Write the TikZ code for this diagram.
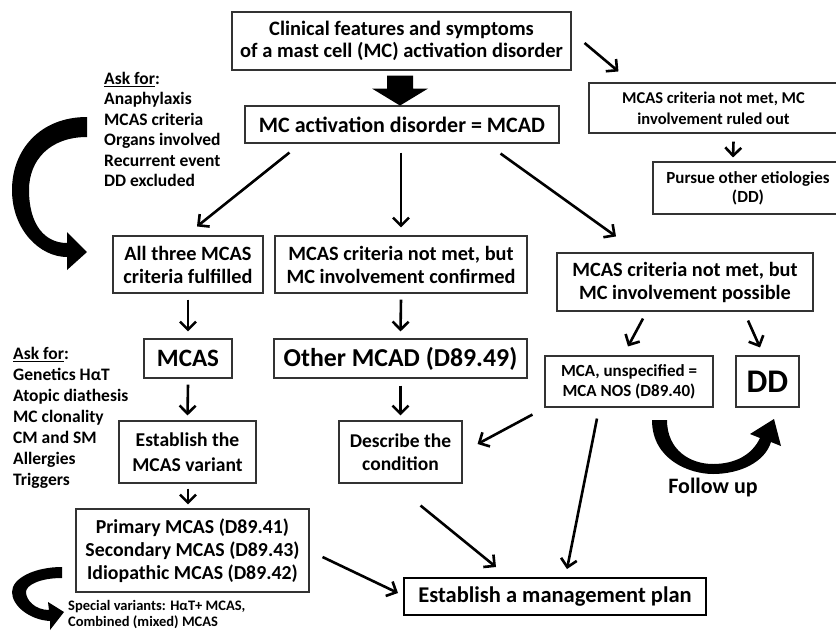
\documentclass[tikz,border=0pt]{standalone}
\usepackage{fontspec}
\setmainfont{Carlito}
\usetikzlibrary{arrows.meta,calc}
\newcommand{\fsz}[1]{\fontsize{#1}{#1}\selectfont}
\tikzset{
  box/.style={draw=black!80, line width=1.1pt, inner sep=0pt, align=center, font=\bfseries\fontsize{20.3}{23}\selectfont},
  arr/.style={line width=2.6pt, -{Straight Barb[length=8pt,width=16pt]}},
  lst/.style={anchor=west, inner sep=0pt, text height=12pt, text depth=3pt, font=\bfseries\fontsize{17.5}{20}\selectfont},
  blk/.style={fill=black, draw=none}
}
\begin{document}
\begin{tikzpicture}[x=1pt,y=-1pt]
\useasboundingbox (0,0) rectangle (836,630);
% boxes
\node[box, minimum width=339pt, minimum height=58pt, font=\bfseries\fontsize{20.5}{22}\selectfont] (top) at (401.5,41) {Clinical features and symptoms\\of a mast cell (MC) activation disorder};
\node[box, minimum width=314pt, minimum height=37pt, font=\bfseries\fsz{22}] (mcad) at (402,124.5) {MC activation disorder = MCAD};
\node[box, minimum width=249pt, minimum height=50pt, font=\bfseries\fontsize{16.5}{21}\selectfont] (ruled) at (713.5,108) {MCAS criteria not met, MC\\involvement ruled out};
\node[box, minimum width=190pt, minimum height=52pt, font=\bfseries\fontsize{17}{19}\selectfont] (pursue) at (748,188) {Pursue other etiologies\\(DD)};
\node[box, minimum width=150pt, minimum height=57pt] (allthree) at (188,264.5) {All three MCAS\\criteria fulfilled};
\node[box, minimum width=252pt, minimum height=57pt] (confirmed) at (401,264.5) {MCAS criteria not met, but\\MC involvement confirmed};
\node[box, minimum width=256pt, minimum height=58pt] (possible) at (685,282) {MCAS criteria not met, but\\MC involvement possible};
\node[box, minimum width=88pt, minimum height=39pt, font=\bfseries\fsz{25}] (mcas) at (188,358.5) {MCAS};
\node[box, minimum width=253pt, minimum height=39pt, font=\bfseries\fsz{25.8}] (other) at (400.5,358.5) {Other MCAD (D89.49)};
\node[box, minimum width=168pt, minimum height=51pt, font=\bfseries\fontsize{17}{20}\selectfont] (mcanos) at (629,381.5) {MCA, unspecified =\\MCA NOS (D89.40)};
\node[box, minimum width=63pt, minimum height=51pt, font=\bfseries\fsz{33}] (dd) at (767.5,381.5) {DD};
\node[box, minimum width=137pt, minimum height=62pt, font=\bfseries\fontsize{19.6}{25}\selectfont] (establish) at (187.5,452) {Establish the\\MCAS variant};
\node[box, minimum width=123pt, minimum height=62pt, font=\bfseries\fontsize{19.5}{23}\selectfont] (describe) at (400.5,452) {Describe the\\condition};
\node[box, minimum width=233pt, minimum height=83pt, font=\bfseries\fontsize{19.8}{23}\selectfont] (primary) at (192.5,550.5) {Primary MCAS (D89.41)\\Secondary MCAS (D89.43)\\Idiopathic MCAS (D89.42)};
\node[box, line width=2pt, draw=black, minimum width=302pt, minimum height=37pt, font=\bfseries\fsz{22.5}] (mgmt) at (555,596.5) {Establish a management plan};
% lists
\foreach \t [count=\i from 0] in {{\underline{Ask for}:},Anaphylaxis,MCAS criteria,Organs involved,Recurrent event,DD excluded}
  \node[lst] (askA\i) at (104,80+20.4*\i) {\t};
\foreach \t [count=\i from 0] in {{\underline{Ask for}:},Genetics HαT,Atopic diathesis,MC clonality,CM and SM,Allergies,Triggers}
  \node[lst] (askB\i) at (13,355+21*\i) {\t};
\node[anchor=west, inner sep=0pt, font=\bfseries\fsz{14.5}] (spec1) at (68,607) {Special variants: HαT+ MCAS,};
\node[anchor=west, inner sep=0pt, font=\bfseries\fsz{14.5}] (spec2) at (68,622) {Combined (mixed) MCAS};
\node[inner sep=0pt, font=\bfseries\fsz{22}] (follow) at (713,488) {Follow up};
% block arrow
\fill[blk, shift={(top.south)}] (-14.5,5) -- (11.5,5) -- (11.5,18) -- (26.5,18) -- (-1.5,35) -- (-29.5,18) -- (-14.5,18) -- cycle;
% connectors
\draw[arr] ($(top.east)+(13,2)$) -- ($(ruled.north west)+(30,-11)$);
\draw[arr] ($(ruled.south)+(20,8)$) -- ($(pursue.north)+(-15,-4)$);
\draw[arr] ($(mcad.south west)+(45,9)$) -- ($(allthree.north)+(9,-9)$);
\draw[arr] ($(mcad.south)+(-1,9)$) -- ($(confirmed.north)+(0,-8)$);
\draw[arr] ($(mcad.south east)+(-59,10)$) -- ($(possible.north)+(-69,-16)$);
\draw[arr] ($(allthree.south)+(0,6)$) -- ($(mcas.north)+(0,-7)$);
\draw[arr] ($(confirmed.south)+(0,6)$) -- ($(other.north)+(0,-7)$);
\draw[arr] ($(possible.south)+(-42,7)$) -- ($(mcanos.north)+(-1,-9)$);
\draw[arr] ($(possible.south)+(63,9)$) -- ($(dd.north)+(-7.5,-8)$);
\draw[arr] ($(mcas.south)+(0,6)$) -- ($(establish.north)+(0,-5)$);
\draw[arr] ($(other.south)+(0,7)$) -- ($(describe.north)+(0,-5)$);
\draw[arr] ($(mcanos.south west)+(-12,7)$) -- ($(describe.east)+(15,-8)$);
\draw[arr] ($(establish.south)+(0.5,5)$) -- ($(primary.north)+(-4.5,-4)$);
\draw[arr] ($(describe.south east)+(-42,22)$) -- ($(mgmt.north west)+(93,-10)$);
\draw[arr] ($(mcanos.south)+(-32,11)$) -- ($(mgmt.north)+(12,-8)$);
\draw[arr] ($(primary.east)+(13,6.5)$) -- ($(mgmt.west)+(-5,-3.5)$);
% curved thick arrows
\fill[blk] (87,117) .. controls (40,117) and (12,150) .. (12,190) .. controls (12,230) and (40,257) .. (67,257)
  -- (67,270) -- (87,252) -- (67,232) -- (67,243)
  .. controls (45,243) and (29,225) .. (29,190) .. controls (29,160) and (50,137) .. (87,137) -- cycle;
\fill[blk] (62,567) .. controls (35,567) and (12,578) .. (12,592) .. controls (12,606) and (30,620) .. (50,621)
  -- (50,630) -- (64,612) -- (48,602) -- (49,610)
  .. controls (35,610) and (26,600) .. (26,592) .. controls (26,585) and (40,578) .. (62,578) -- cycle;
\fill[blk] (652,420) .. controls (652,460) and (690,474) .. (713,474) .. controls (740,474) and (765,462) .. (771,442)
  -- (781,446) -- (774,419) -- (750,434) -- (760,438)
  .. controls (752,455) and (735,464) .. (713,464) .. controls (690,464) and (667,450) .. (667,420) -- cycle;
\end{tikzpicture}
\end{document}
